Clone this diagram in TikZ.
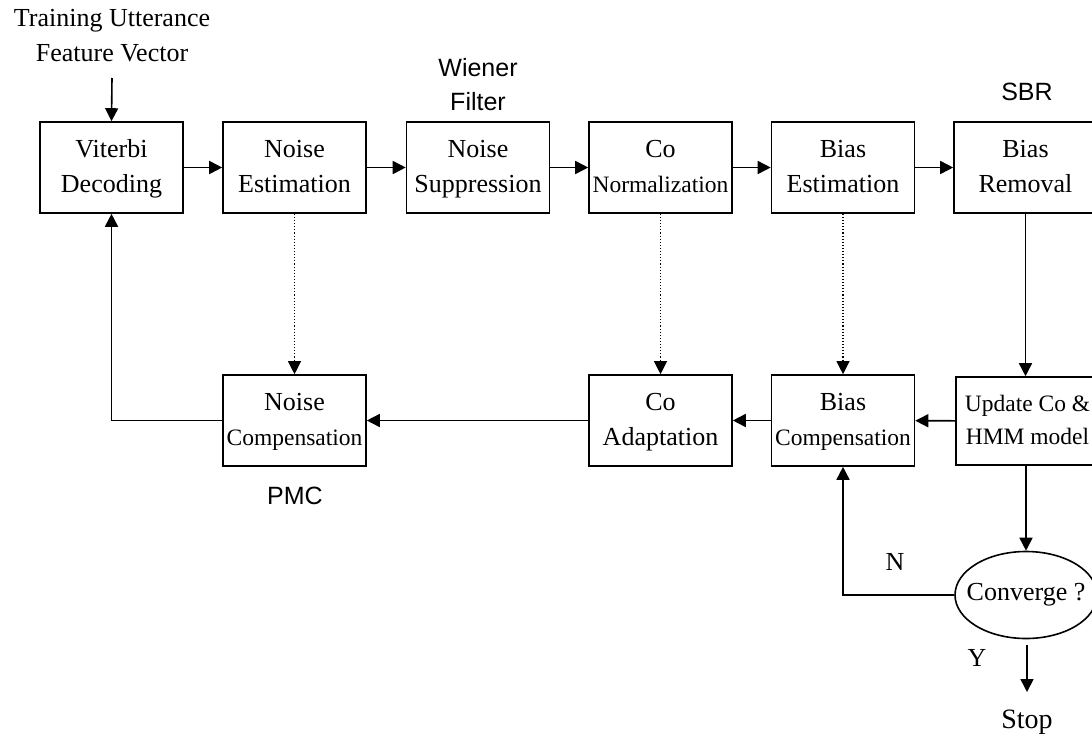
\documentclass[tikz,border=0pt]{standalone}
\usepackage{fontspec}
\setmainfont{Liberation Serif}
\newfontfamily\sansf{Liberation Sans}
\usetikzlibrary{arrows.meta,shapes.geometric}
\begin{document}
\begin{tikzpicture}[x=1pt,y=-1pt,
  blk/.style={draw, line width=1.6pt, minimum width=143pt, minimum height=91pt, inner sep=0pt, align=center, font=\fontsize{26}{35}\selectfont},
  arr/.style={-{Triangle[length=13pt,width=13pt]}, line width=1.6pt},
  dotarr/.style={-{Triangle[length=13pt,width=13pt]}, line width=1.1pt, dotted},
  lbl/.style={inner sep=0pt, align=center, font=\fontsize{26}{35}\selectfont},
  slbl/.style={inner sep=0pt, align=center, font=\sansf\fontsize{25}{34}\selectfont}]
\useasboundingbox (0,0) rectangle (1092,739);
% input label
\node[lbl] (inp) at (112,36) {Training Utterance\\Feature Vector};
\coordinate (inpend) at (112,78);
% top row
\node[blk] (vit) at (111.5,167.5) {Viterbi\strut\\Decoding\strut};
\node[blk] (ne) at (294.5,167.5) {Noise\strut\\Estimation\strut};
\node[blk] (ns) at (478,167.5) {Noise\strut\\Suppression\strut};
\node[blk] (cn) at (660.5,167.5) {Co\strut\\{\fontsize{23.5}{35}\selectfont Normalization\strut}};
\node[blk] (be) at (843,167.5) {Bias\strut\\Estimation\strut};
\node[blk] (br) at (1025.5,167.5) {Bias\strut\\Removal\strut};
% bottom row
\node[blk] (nc) at (294.5,420.5) {Noise\strut\\{\fontsize{23.5}{33}\selectfont Compensation\strut}};
\node[blk] (ca) at (660.5,420.5) {Co\strut\\Adaptation\strut};
\node[blk] (bc) at (843,420.5) {Bias\strut\\{\fontsize{23.5}{33}\selectfont Compensation\strut}};
\node[blk, minimum height=88pt, font=\fontsize{23.5}{33}\selectfont] (up) at (1027.5,421) {Update Co \&\strut\\HMM model\strut};
% decision
\node[draw, ellipse, line width=1.6pt, minimum width=142pt, minimum height=87pt, inner xsep=-11pt, inner ysep=0pt, font=\fontsize{26}{30}\selectfont] (conv) at (1026,595) {Converge ?};
\node[lbl, font=\fontsize{28}{30}\selectfont] (stop) at (1027,722) {Stop};
\coordinate (ystart) at (1027,645);
\coordinate (yend) at (1027,692);
\node[lbl] (nlab) at (895,562) {N};
\node[lbl] (ylab) at (977,658) {Y};
% sans labels
\node[slbl] (wf) at (478,85) {Wiener\\Filter};
\node[slbl] (sbr) at (1027,92) {SBR};
\node[slbl] (pmc) at (295,496) {PMC};
% connectors
\draw[arr] (inpend) -- (vit.north);
\draw[arr] (vit) -- (ne);
\draw[arr] (ne) -- (ns);
\draw[arr] (ns) -- (cn);
\draw[arr] (cn) -- (be);
\draw[arr] (be) -- (br);
\draw[arr] (br.south) -- (br.south |- up.north);
\draw[arr] (up) -- (bc);
\draw[arr] (bc) -- (ca);
\draw[arr] (ca) -- (nc);
\draw[arr] (nc.west) -| (vit.south);
\draw[dotarr] (ne) -- (nc);
\draw[dotarr] (cn) -- (ca);
\draw[dotarr] (be) -- (bc);
\draw[arr] (up.south -| conv.north) -- (conv.north);
\draw[arr] (conv.west) -| (bc.south);
\draw[arr] (ystart) -- (yend);
\end{tikzpicture}
\end{document}
